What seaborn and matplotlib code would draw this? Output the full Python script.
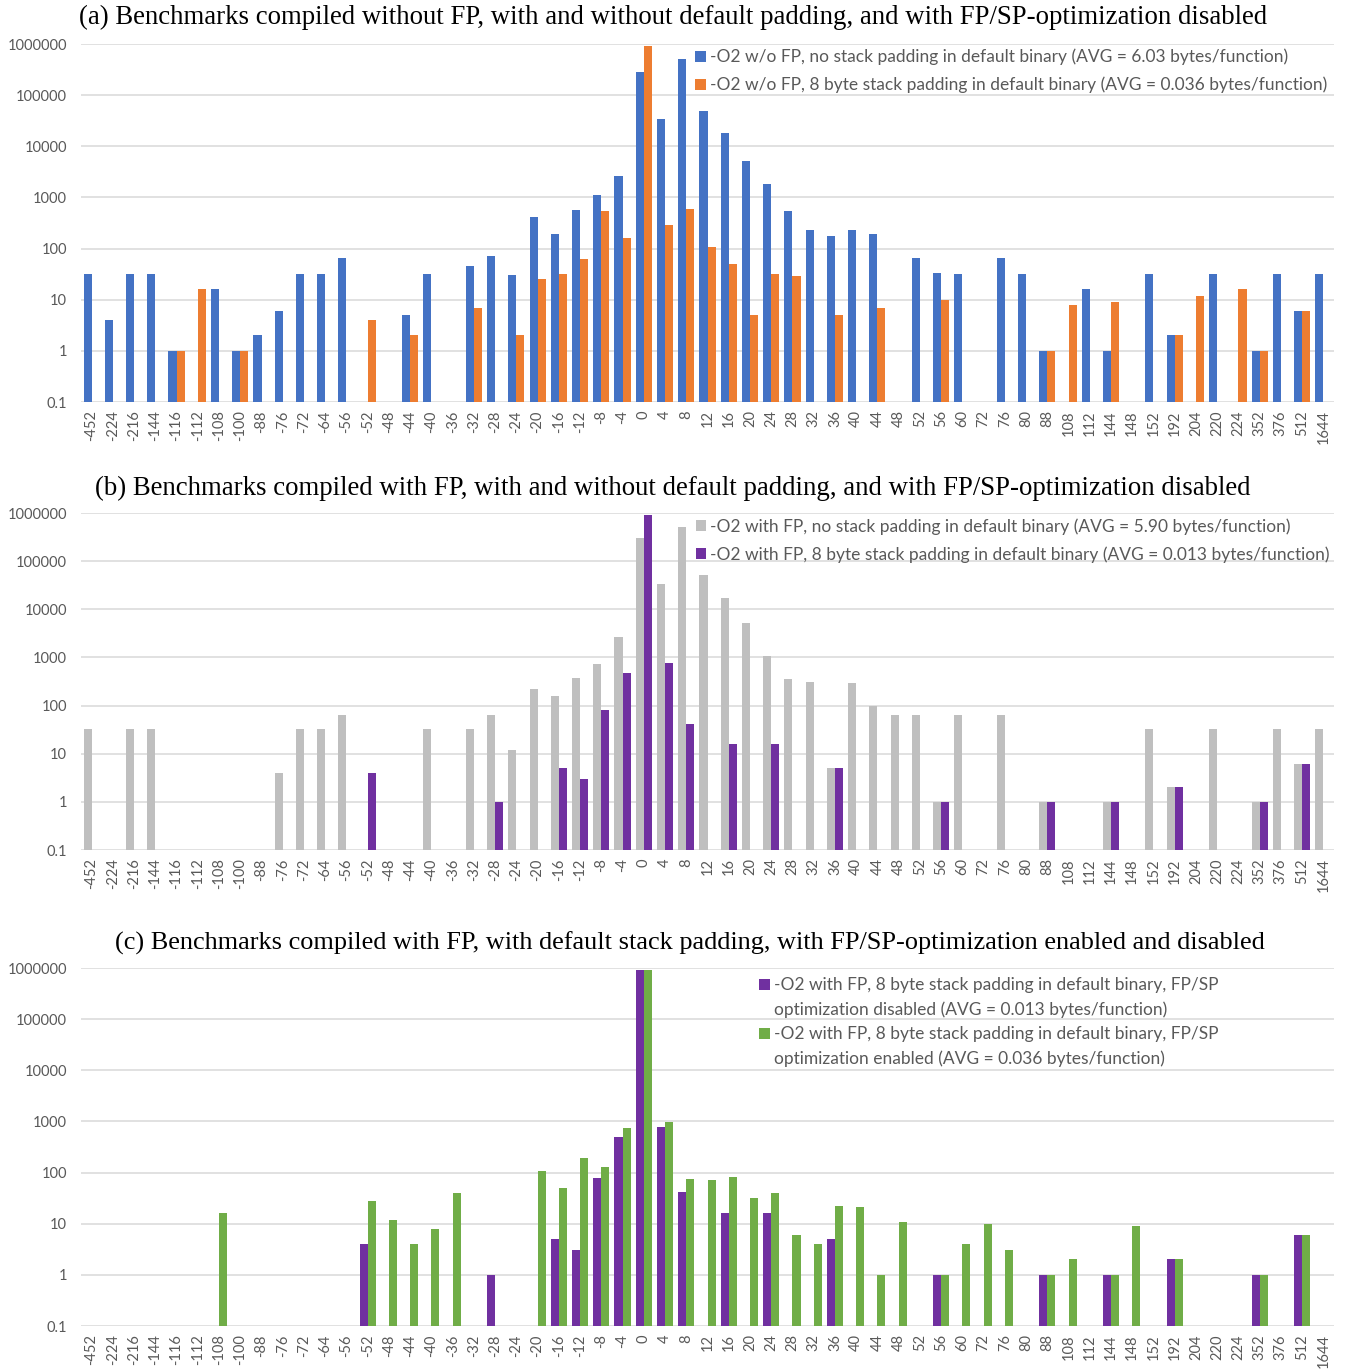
import numpy as np
import pandas as pd
import seaborn as sns
import matplotlib.pyplot as plt
from matplotlib.patches import Patch
from matplotlib.ticker import NullLocator

N = None

# Stack size differences (bytes) on the x axis
CATS = ["-452", "-224", "-216", "-144", "-116", "-112", "-108", "-100", "-88", "-76",
        "-72", "-64", "-56", "-52", "-48", "-44", "-40", "-36", "-32", "-28",
        "-24", "-20", "-16", "-12", "-8", "-4", "0", "4", "8", "12",
        "16", "20", "24", "28", "32", "36", "40", "44", "48", "52",
        "56", "60", "72", "76", "80", "88", "108", "112", "144", "148",
        "152", "192", "204", "220", "224", "352", "376", "512", "1644"]

# (a) without FP
NOFP_NOPAD = [32, 4, 32, 32, 1, N, 16, 1, 2, 6,
              32, 32, 64, N, N, 5, 32, N, 46, 70,
              30, 410, 197, 567, 1110, 2630, 283000, 34500, 518000, 49500,
              18300, 5180, 1830, 533, 226, 177, 226, 197, N, 64,
              34, 32, N, 64, 32, 1, N, 16, 1, N,
              32, 2, N, 32, N, 1, 32, 6, 32]
NOFP_PAD8 = [N, N, N, N, 1, 16, N, 1, N, N,
             N, N, N, 4, N, 2, N, N, 7, N,
             2, 25, 32, 63, 533, 164, 905000, 283, 602, 107,
             49, 5, 32, 29, N, 5, N, 7, N, N,
             10, N, N, N, N, 1, 8, N, 9, N,
             N, 2, 12, N, 16, 1, N, 6, N]

# (b) with FP
FP_NOPAD = [32, N, 32, 32, N, N, N, N, N, 4,
            32, 32, 64, N, N, N, 32, N, 32, 64,
            12, 222, 159, 370, 724, 2690, 300000, 34200, 501000, 50900,
            16900, 5170, 1080, 353, 305, 5, 291, 96, 64, 64,
            1, 64, N, 64, N, 1, N, N, 1, N,
            32, 2, N, 32, N, 1, 32, 6, 32]
FP_PAD8 = [N, N, N, N, N, N, N, N, N, N,
           N, N, N, 4, N, N, N, N, N, 1,
           N, N, 5, 3, 80, 486, 919000, 771, 41, N,
           16, N, 16, N, N, 5, N, N, N, N,
           1, N, N, N, N, 1, N, N, 1, N,
           N, 2, N, N, N, 1, N, 6, N]

# (c) with FP, FP/SP optimization enabled
FP_PAD8_OPT = [N, N, N, N, N, N, 16, N, N, N,
               N, N, N, 28, 12, 4, 8, 39, N, N,
               N, 106, 49, 197, 129, 760, 900000, 993, 75, 70,
               81, 32, 39, 6, 4, 22, 21, 1, 11, N,
               1, 4, 10, 3, N, 1, 2, N, 1, 9,
               N, 2, N, N, N, 1, N, 6, N]

LABELS_A = ["-O2 w/o FP, no stack padding in default binary (AVG = 6.03 bytes/function)",
            "-O2 w/o FP, 8 byte stack padding in default binary (AVG = 0.036 bytes/function)"]
LABELS_B = ["-O2 with FP, no stack padding in default binary (AVG = 5.90 bytes/function)",
            "-O2 with FP, 8 byte stack padding in default binary (AVG = 0.013 bytes/function)"]
# panel (c) legend entries wrap onto a second line
LABELS_C = ["-O2 with FP, 8 byte stack padding in default binary, FP/SP",
            "optimization disabled (AVG = 0.013 bytes/function)",
            "-O2 with FP, 8 byte stack padding in default binary, FP/SP",
            "optimization enabled (AVG = 0.036 bytes/function)"]

TITLES = ["(a) Benchmarks compiled without FP, with and without default padding, and with FP/SP-optimization disabled",
          "(b) Benchmarks compiled with FP, with and without default padding, and with FP/SP-optimization disabled",
          "(c) Benchmarks compiled with FP, with default stack padding, with FP/SP-optimization enabled and disabled"]

YTICKS = [0.1, 1, 10, 100, 1000, 10000, 100000, 1000000]
YTICK_LABELS = ["0.1", "1", "10", "100", "1000", "10000", "100000", "1000000"]

BLUE, ORANGE, GRAY, PURPLE, GREEN = "#4472C4", "#ED7D31", "#BFBFBF", "#7030A0", "#70AD47"

W, H = 1351, 1372
TICK_FONT = "Lato"
TEXT_GRAY = "#595959"


def draw_panel(fig, top_px, bottom_px, series, labels, colors, title, title_cx, title_y,
               title_size, legend_loc, legend_anchor, legend_labels=None, legend_colors=None):
    left_px, right_px = 81, 1334
    ax = fig.add_axes([left_px / W, 1 - bottom_px / H,
                       (right_px - left_px) / W, (bottom_px - top_px) / H])
    frames = []
    for vals, lab in zip(series, labels):
        frames.append(pd.DataFrame({"size": CATS,
                                    "count": pd.Series(vals, dtype=float),
                                    "series": lab}))
    df = pd.concat(frames).dropna()
    sns.barplot(data=df, x="size", y="count", hue="series", order=CATS,
                hue_order=labels, palette=colors, width=0.76, errorbar=None,
                saturation=1, linewidth=0, ax=ax)
    ax.set_yscale("log")
    ax.set_ylim(0.1, 1e6)
    ax.set_xlim(-0.5, len(CATS) - 0.5)
    ax.set_yticks(YTICKS)
    ax.set_yticklabels(YTICK_LABELS)
    ax.yaxis.set_minor_locator(NullLocator())
    ax.set_xlabel("")
    ax.set_ylabel("")
    ax.grid(axis="y", color="#D9D9D9", linewidth=1.1)
    ax.grid(axis="x", visible=False)
    ax.set_axisbelow(True)
    for s in ax.spines.values():
        s.set_visible(False)
    ax.tick_params(axis="both", length=0, colors=TEXT_GRAY, labelsize=10.5)
    ax.tick_params(axis="x", rotation=90, pad=6)
    ax.tick_params(axis="y", pad=10)
    for t in ax.get_xticklabels() + ax.get_yticklabels():
        t.set_fontfamily(TICK_FONT)

    ax.get_legend().remove()
    if legend_labels is None:
        legend_labels, legend_colors = labels, colors
    handles = [Patch(facecolor=c, edgecolor="none") for c in legend_colors]
    ax.legend(handles, legend_labels, loc=legend_loc, bbox_to_anchor=legend_anchor,
              frameon=False, handlelength=0.6, handleheight=0.6, handletextpad=0.25,
              labelspacing=0.47 if len(legend_labels) > 2 else 0.66, borderaxespad=0.2,
              prop={"family": TICK_FONT, "size": 12.5}, labelcolor=TEXT_GRAY)

    fig.text(title_cx / W, 1 - title_y / H, title, ha="center", va="center",
             fontsize=title_size, family="Liberation Serif", color="black")
    return ax


sns.set_theme(style="white")
fig = plt.figure(figsize=(W / 100, H / 100), dpi=100)

draw_panel(fig, 44, 402, [NOFP_NOPAD, NOFP_PAD8], LABELS_A, [BLUE, ORANGE],
           TITLES[0], 673, 17, 19.3, "upper right", (1.003, 1.016))
draw_panel(fig, 513, 850, [FP_NOPAD, FP_PAD8], LABELS_B, [GRAY, PURPLE],
           TITLES[1], 673, 488, 19.3, "upper right", (1.005, 1.016))
draw_panel(fig, 968, 1326, [FP_PAD8, FP_PAD8_OPT],
           ["disabled", "enabled"], [PURPLE, GREEN],
           TITLES[2], 690, 943, 18.9, "upper left", (0.533, 1.003),
           legend_labels=LABELS_C, legend_colors=[PURPLE, "none", GREEN, "none"])

fig.savefig("out.png", dpi=100, facecolor="white")
